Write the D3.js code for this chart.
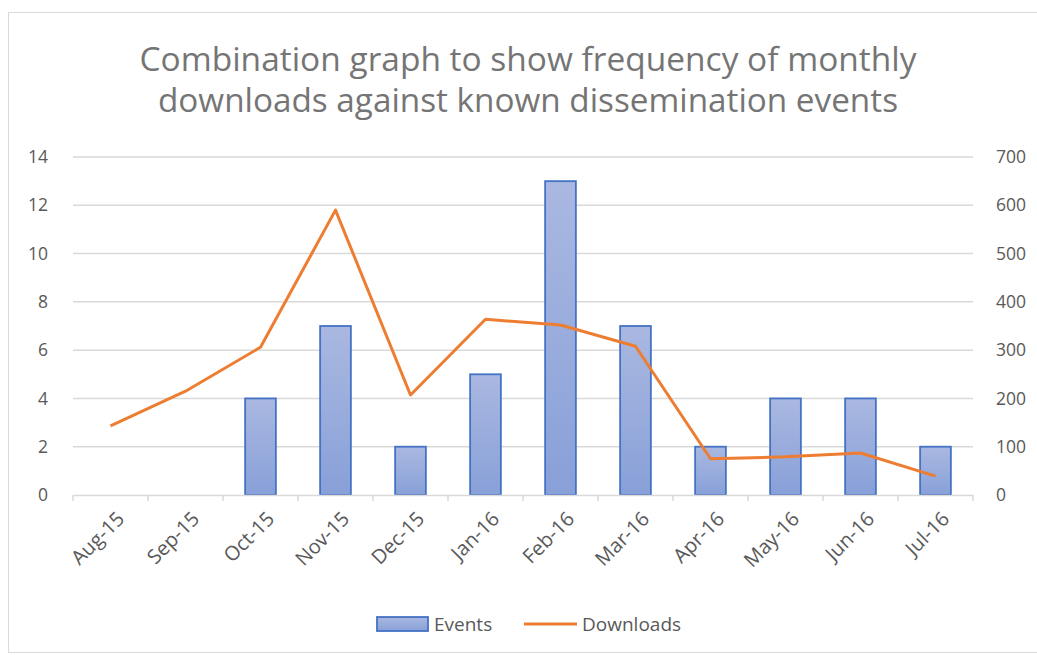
<!DOCTYPE html>
<html>
<head>
<meta charset="utf-8">
<script src="https://cdn.jsdelivr.net/npm/d3@7"></script>
<style>
  body { margin: 0; background: #fff; }
  text { font-family: "Open Sans", "Liberation Sans", sans-serif; fill: #595959; }
</style>
</head>
<body>
<div id="chart"></div>
<script>
// datos
const months = ["Aug-15", "Sep-15", "Oct-15", "Nov-15", "Dec-15", "Jan-16", "Feb-16", "Mar-16", "Apr-16", "May-16", "Jun-16", "Jul-16"]
const events = [0, 0, 4, 7, 2, 5, 13, 7, 2, 4, 4, 2]
const downloads = [143, 215, 306, 590, 207, 364, 352, 308, 75, 79, 87, 39]
const leftTicks = [0, 2, 4, 6, 8, 10, 12, 14]
const rightTicks = [0, 100, 200, 300, 400, 500, 600, 700]
const titleLines = ["Combination graph to show frequency of monthly", "downloads against known dissemination events"]
const titleWidths = [777, 740]

const width = 1037
const height = 655
const margin = { top: 157, bottom: 160, left: 73, right: 64 }
const innerW = width - margin.left - margin.right
const innerH = height - margin.top - margin.bottom

const svg = d3.select("#chart").append("svg").attr("width", width).attr("height", height)

// gradiente de las barras
const grad = svg.append("defs").append("linearGradient").attr("id", "barGrad")
    .attr("x1", 0).attr("y1", 0).attr("x2", 0).attr("y2", 1)
grad.append("stop").attr("offset", "0%").attr("stop-color", "#aab8e1")
grad.append("stop").attr("offset", "100%").attr("stop-color", "#88a0d8")

// borde del gráfico
svg.append("rect").attr("x", 8.5).attr("y", 12.5).attr("width", 1040).attr("height", 640)
    .attr("fill", "none").attr("stroke", "#d9d9d9")

// título
svg.append("g").selectAll("text").data(titleLines).join("text")
    .attr("x", 528).attr("y", (d, i) => 71 + i * 41)
    .attr("text-anchor", "middle")
    .attr("textLength", (d, i) => titleWidths[i])
    .attr("lengthAdjust", "spacingAndGlyphs")
    .style("font-size", "33px")
    .style("fill", "#757575")
    .text(d => d)

const g = svg.append("g").attr("transform", `translate(${margin.left}, ${margin.top})`)

// escalas
const x = d3.scaleBand().domain(months).range([0, innerW]).paddingInner(0.59).paddingOuter(0.295)
const xTick = d3.scaleBand().domain(months).range([0, innerW])
const yL = d3.scaleLinear().domain([0, 14]).range([innerH, 0])
const yR = d3.scaleLinear().domain([0, 700]).range([innerH, 0])

// rejilla
g.append("g").selectAll("line").data(leftTicks.filter(d => d > 0)).join("line")
    .attr("x1", 0).attr("x2", innerW)
    .attr("y1", d => yL(d)).attr("y2", d => yL(d))
    .attr("stroke", "#d9d9d9").attr("stroke-width", 1.5)

// eje izquierdo
const yAxisL = d3.axisLeft(yL).tickValues(leftTicks).tickSize(0).tickPadding(25)
const gl = g.append("g").call(yAxisL)
gl.select(".domain").remove()
gl.selectAll("text").style("font-size", "17.5px").style("fill", "#595959")

// eje derecho
const yAxisR = d3.axisRight(yR).tickValues(rightTicks).tickSize(0).tickPadding(23)
const gr = g.append("g").attr("transform", `translate(${innerW}, 0)`).call(yAxisR)
gr.select(".domain").remove()
gr.selectAll("text").style("font-size", "17.5px").style("fill", "#595959")

// barras
g.append("g").selectAll("rect").data(months.map((m, i) => ({ m, v: events[i] })).filter(d => d.v > 0))
    .join("rect")
    .attr("x", d => x(d.m))
    .attr("y", d => yL(d.v))
    .attr("width", x.bandwidth())
    .attr("height", d => innerH - yL(d.v))
    .attr("fill", "url(#barGrad)")
    .attr("stroke", "#4472c4").attr("stroke-width", 1.8)

// eje x
const xAxis = d3.axisBottom(xTick).tickSize(0).tickFormat(d => d)
const gx = g.append("g").attr("transform", `translate(0, ${innerH})`).call(xAxis)
gx.select(".domain").attr("stroke", "#d9d9d9").attr("stroke-width", 1.5)
gx.selectAll(".tick line").remove()
gx.append("g").selectAll("line").data(months.concat(["end"])).join("line")
    .attr("x1", (d, i) => i * xTick.step()).attr("x2", (d, i) => i * xTick.step())
    .attr("y1", 0).attr("y2", 6)
    .attr("stroke", "#d9d9d9").attr("stroke-width", 1.5)
gx.selectAll(".tick text")
    .style("font-size", "20px").style("fill", "#595959")
    .attr("text-anchor", "end")
    .attr("dy", "0.35em")
    .attr("transform", "translate(8, 18) rotate(-45)")

// línea de descargas
const line = d3.line().x((d, i) => xTick(months[i]) + xTick.bandwidth() / 2).y(d => yR(d))
g.append("path").datum(downloads)
    .attr("d", line)
    .attr("fill", "none")
    .attr("stroke", "#ed7d31").attr("stroke-width", 3)
    .attr("stroke-linejoin", "round")

// leyenda
const legend = svg.append("g").attr("transform", "translate(0, 624)")
legend.append("rect").attr("x", 377).attr("y", -7).attr("width", 51).attr("height", 14)
    .attr("fill", "url(#barGrad)").attr("stroke", "#4472c4").attr("stroke-width", 1.8)
legend.append("text").attr("x", 434).attr("y", 0).attr("dy", "0.35em")
    .style("font-size", "19px").text("Events")
legend.append("line").attr("x1", 524).attr("x2", 577).attr("y1", 0).attr("y2", 0)
    .attr("stroke", "#ed7d31").attr("stroke-width", 3)
legend.append("text").attr("x", 582).attr("y", 0).attr("dy", "0.35em")
    .style("font-size", "19px").text("Downloads")
</script>
</body>
</html>
